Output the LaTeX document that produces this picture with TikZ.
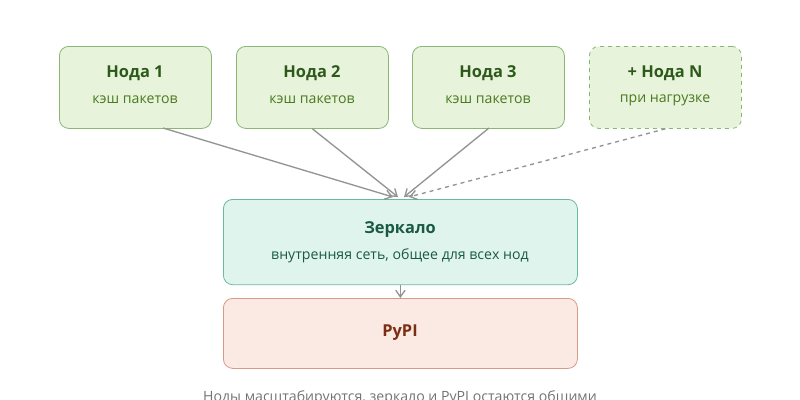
\documentclass[tikz,border=0pt]{standalone}
\usepackage{fontspec}
\setmainfont{Open Sans}
\usetikzlibrary{arrows.meta}
\definecolor{nodefill}{HTML}{E8F3DC}
\definecolor{nodeline}{HTML}{8AB874}
\definecolor{nodetitle}{HTML}{2D5A1B}
\definecolor{nodesub}{HTML}{4A7A1E}
\definecolor{mirfill}{HTML}{E0F4EE}
\definecolor{mirline}{HTML}{6BB8A0}
\definecolor{mirtext}{HTML}{1A5A44}
\definecolor{pyfill}{HTML}{FBEAE4}
\definecolor{pyline}{HTML}{D99A85}
\definecolor{pytext}{HTML}{7A2E12}
\tikzset{
  box/.style={draw, rounded corners=7pt, line width=0.6pt, anchor=north west},
  nodebox/.style={box, fill=nodefill, draw=nodeline, minimum width=114pt, minimum height=61.5pt},
  title/.style={font=\fontsize{12.3}{14}\selectfont\bfseries},
  sub/.style={font=\fontsize{10.6}{12}\selectfont},
  link/.style={-{Straight Barb[length=5pt,width=7pt]}, line width=1pt, draw=gray!85},
}
\begin{document}
\begin{tikzpicture}[x=0.75pt, y=-0.75pt]
      \useasboundingbox (0,0) rectangle (800,400);

      \node [nodebox]             (n1) at (59,46)  {};
      \node [nodebox]             (n2) at (236,46) {};
      \node [nodebox]             (n3) at (412,46) {};
      \node [nodebox, dashed]     (nn) at (589,46) {};
      \node [box, fill=mirfill, draw=mirline, minimum width=265.5pt, minimum height=64pt] (mir)  at (223,199) {};
      \node [box, fill=pyfill,  draw=pyline,  minimum width=265.5pt, minimum height=52.5pt] (pypi) at (223,298) {};

      \node [title, nodetitle] (t1) at (135,73)  {Нода 1};
      \node [sub, nodesub]     (s1) at (135,100) {кэш пакетов};
      \node [title, nodetitle] (t2) at (312,73)  {Нода 2};
      \node [sub, nodesub]     (s2) at (312,100) {кэш пакетов};
      \node [title, nodetitle] (t3) at (488,73)  {Нода 3};
      \node [sub, nodesub]     (s3) at (488,100) {кэш пакетов};
      \node [title, nodetitle] (tn) at (665,73)  {+ Нода N};
      \node [sub, nodesub]     (sn) at (665,100) {при нагрузке};

      \node [title, mirtext] (tm) at (400,230) {Зеркало};
      \node [sub, mirtext]   (sm) at (400,256) {внутренняя сеть, общее для всех нод};
      \node [title, pytext]  (tp) at (400,333) {PyPI};

      \node [sub, gray!90!black] (cap) at (400,398) {Ноды масштабируются, зеркало и PyPI остаются общими};

      \draw [link] (163,128) -- (393,197);
      \draw [link] (n2.south) -- (398,197);
      \draw [link] (489,128) -- (404,197);
      \draw [link, dashed] (nn.south) -- (409,197);
      \draw [link] (mir.south) -- (pypi.north);
\end{tikzpicture}
\end{document}
